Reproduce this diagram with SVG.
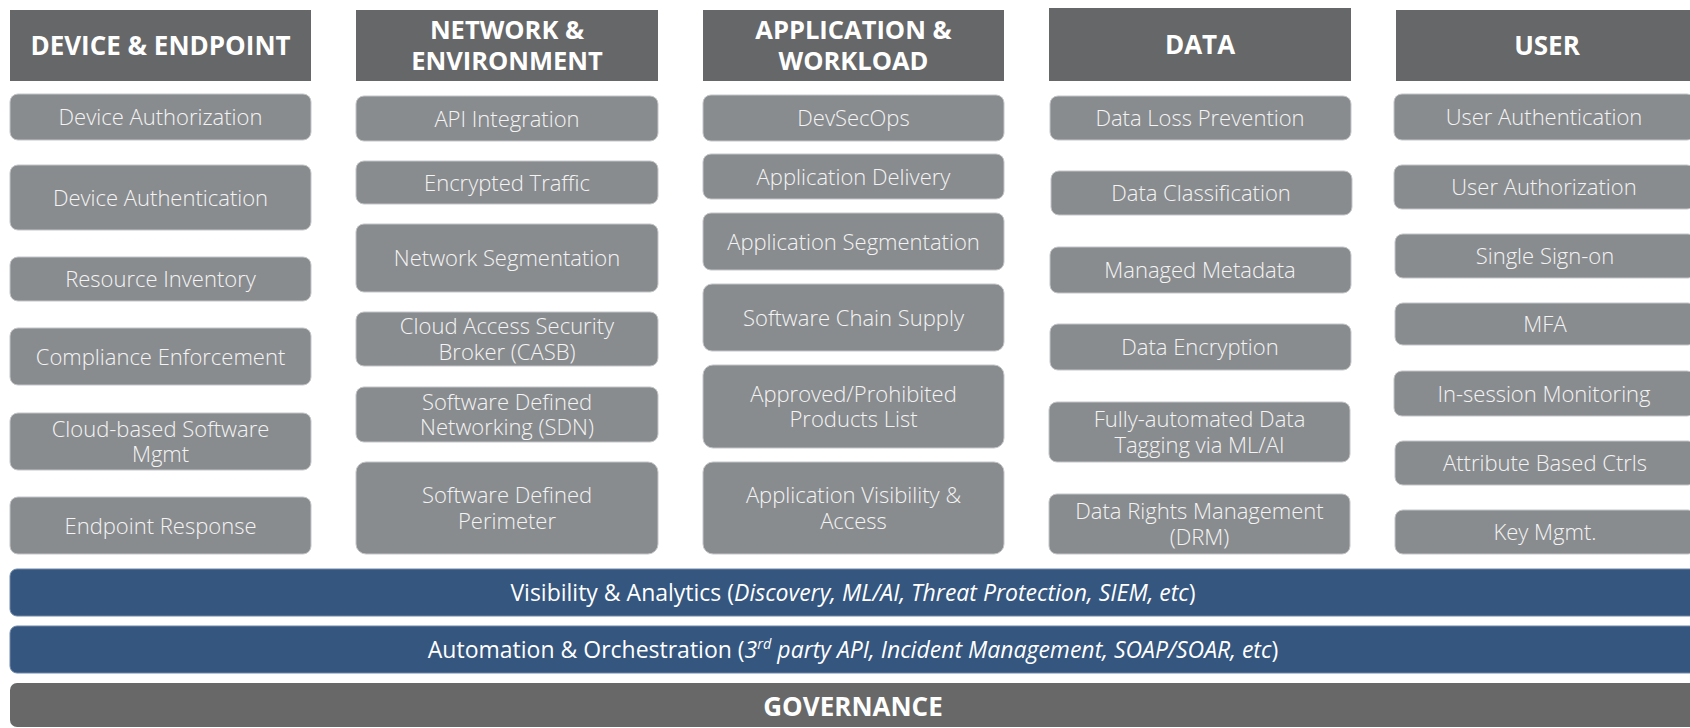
<svg xmlns="http://www.w3.org/2000/svg" width="1690" height="728" viewBox="0 0 1690 728">
<style>
.hdr{fill:#666769}
.hdr-t{font-family:"Open Sans","Liberation Sans",sans-serif;font-weight:700;font-size:26px;fill:#ffffff;text-anchor:middle}
.hdr-t2{font-family:"Open Sans","Liberation Sans",sans-serif;font-weight:700;font-size:25.5px;fill:#ffffff;text-anchor:middle}
.box{fill:#898c8f;stroke:#c3c5c7;stroke-width:1}
.box-t{font-family:"Open Sans","Liberation Sans",sans-serif;font-weight:300;font-size:22px;fill:#f4f4f4;text-anchor:middle}
.bar{fill:#34567f;stroke:#7088a8;stroke-width:1}
.bar-t{font-family:"Open Sans","Liberation Sans",sans-serif;font-weight:400;font-size:23px;fill:#ffffff;text-anchor:middle}
.gov{fill:#686868}
.it{font-style:italic}
</style>
<rect width="1690" height="728" fill="#ffffff"/>

<!-- Column headers -->
<g id="hdr-device"><rect class="hdr" x="10" y="10" width="301" height="71"/><text class="hdr-t" x="160.5" y="54.5">DEVICE &amp; ENDPOINT</text></g>
<g id="hdr-network"><rect class="hdr" x="356" y="10" width="302" height="71"/><text class="hdr-t2" x="507" y="39.2">NETWORK &amp;<tspan x="507" dy="31">ENVIRONMENT</tspan></text></g>
<g id="hdr-application"><rect class="hdr" x="703" y="10" width="301" height="71"/><text class="hdr-t2" x="853.5" y="39.2">APPLICATION &amp;<tspan x="853.5" dy="31">WORKLOAD</tspan></text></g>
<g id="hdr-data"><rect class="hdr" x="1049" y="8" width="302" height="73"/><text class="hdr-t" x="1200" y="53.7">DATA</text></g>
<g id="hdr-user"><rect class="hdr" x="1396" y="10" width="302" height="71"/><text class="hdr-t" x="1547" y="54.5">USER</text></g>

<!-- Device & Endpoint -->
<g id="dev-authz"><rect class="box" x="10" y="94" width="301" height="46" rx="8"/><text class="box-t" x="160.5" y="125">Device Authorization</text></g>
<g id="dev-authn"><rect class="box" x="10" y="165" width="301" height="65" rx="8"/><text class="box-t" x="160.5" y="205.5">Device Authentication</text></g>
<g id="dev-inventory"><rect class="box" x="10" y="257" width="301" height="44" rx="8"/><text class="box-t" x="160.5" y="287">Resource Inventory</text></g>
<g id="dev-compliance"><rect class="box" x="10" y="328" width="301" height="57" rx="8"/><text class="box-t" x="160.5" y="364.5">Compliance Enforcement</text></g>
<g id="dev-cloudsw"><rect class="box" x="10" y="413" width="301" height="57" rx="8"/><text class="box-t" x="160.5" y="436.5">Cloud-based Software<tspan x="160.5" dy="25.5">Mgmt</tspan></text></g>
<g id="dev-endpoint"><rect class="box" x="10" y="497" width="301" height="57" rx="8"/><text class="box-t" x="160.5" y="533.5">Endpoint Response</text></g>

<!-- Network & Environment -->
<g id="net-api"><rect class="box" x="356" y="96" width="302" height="45" rx="8"/><text class="box-t" x="507" y="126.5">API Integration</text></g>
<g id="net-encrypted"><rect class="box" x="356" y="161" width="302" height="43" rx="8"/><text class="box-t" x="507" y="190.5">Encrypted Traffic</text></g>
<g id="net-segmentation"><rect class="box" x="356" y="224" width="302" height="68" rx="8"/><text class="box-t" x="507" y="266">Network Segmentation</text></g>
<g id="net-casb"><rect class="box" x="356" y="312" width="302" height="54" rx="8"/><text class="box-t" x="507" y="334">Cloud Access Security<tspan x="507" dy="25.5">Broker (CASB)</tspan></text></g>
<g id="net-sdn"><rect class="box" x="356" y="387" width="302" height="55" rx="8"/><text class="box-t" x="507" y="409.5">Software Defined<tspan x="507" dy="25.5">Networking (SDN)</tspan></text></g>
<g id="net-sdp"><rect class="box" x="356" y="462" width="302" height="92" rx="10"/><text class="box-t" x="507" y="503">Software Defined<tspan x="507" dy="25.5">Perimeter</tspan></text></g>

<!-- Application & Workload -->
<g id="app-devsecops"><rect class="box" x="703" y="95" width="301" height="46" rx="8"/><text class="box-t" x="853.5" y="126">DevSecOps</text></g>
<g id="app-delivery"><rect class="box" x="703" y="154" width="301" height="45" rx="8"/><text class="box-t" x="853.5" y="184.5">Application Delivery</text></g>
<g id="app-segmentation"><rect class="box" x="703" y="213" width="301" height="57" rx="8"/><text class="box-t" x="853.5" y="249.5">Application Segmentation</text></g>
<g id="app-supply"><rect class="box" x="703" y="284" width="301" height="67" rx="9"/><text class="box-t" x="853.5" y="325.5">Software Chain Supply</text></g>
<g id="app-approved"><rect class="box" x="703" y="365" width="301" height="83" rx="10"/><text class="box-t" x="853.5" y="401.5">Approved/Prohibited<tspan x="853.5" dy="25.5">Products List</tspan></text></g>
<g id="app-visibility"><rect class="box" x="703" y="462" width="301" height="92" rx="10"/><text class="box-t" x="853.5" y="503">Application Visibility &amp;<tspan x="853.5" dy="25.5">Access</tspan></text></g>

<!-- Data -->
<g id="data-dlp"><rect class="box" x="1050" y="96" width="301" height="44" rx="8"/><text class="box-t" x="1200" y="126">Data Loss Prevention</text></g>
<g id="data-class"><rect class="box" x="1051" y="171" width="301" height="44" rx="8"/><text class="box-t" x="1201" y="201">Data Classification</text></g>
<g id="data-meta"><rect class="box" x="1050" y="247" width="301" height="46" rx="8"/><text class="box-t" x="1200" y="278">Managed Metadata</text></g>
<g id="data-encryption"><rect class="box" x="1050" y="324" width="301" height="46" rx="8"/><text class="box-t" x="1200" y="355">Data Encryption</text></g>
<g id="data-tagging"><rect class="box" x="1049" y="402" width="301" height="60" rx="8"/><text class="box-t" x="1199.5" y="427">Fully-automated Data<tspan x="1199.5" dy="25.5">Tagging via ML/AI</tspan></text></g>
<g id="data-drm"><rect class="box" x="1049" y="494" width="301" height="60" rx="8"/><text class="box-t" x="1199.5" y="519">Data Rights Management<tspan x="1199.5" dy="25.5">(DRM)</tspan></text></g>

<!-- User -->
<g id="user-authn"><rect class="box" x="1394" y="94" width="301" height="46" rx="8"/><text class="box-t" x="1544" y="125">User Authentication</text></g>
<g id="user-authz"><rect class="box" x="1394" y="165" width="301" height="44" rx="8"/><text class="box-t" x="1544" y="195">User Authorization</text></g>
<g id="user-sso"><rect class="box" x="1395" y="234" width="301" height="44" rx="8"/><text class="box-t" x="1545" y="264">Single Sign-on</text></g>
<g id="user-mfa"><rect class="box" x="1395" y="303" width="301" height="42" rx="8"/><text class="box-t" x="1545" y="332">MFA</text></g>
<g id="user-monitoring"><rect class="box" x="1394" y="371" width="301" height="45" rx="8"/><text class="box-t" x="1544" y="401.5">In-session Monitoring</text></g>
<g id="user-abac"><rect class="box" x="1395" y="441" width="301" height="44" rx="8"/><text class="box-t" x="1545" y="471">Attribute Based Ctrls</text></g>
<g id="user-keys"><rect class="box" x="1395" y="510" width="301" height="44" rx="8"/><text class="box-t" x="1545" y="540">Key Mgmt.</text></g>

<!-- Cross-cutting bars -->
<g id="bar-visibility"><rect class="bar" x="10" y="569" width="1690" height="47" rx="7"/><text class="bar-t" x="853" y="600.5">Visibility &amp; Analytics (<tspan class="it">Discovery, ML/AI, Threat Protection, SIEM, etc</tspan>)</text></g>
<g id="bar-automation"><rect class="bar" x="10" y="626" width="1690" height="47" rx="7"/><text class="bar-t" x="853" y="657.5">Automation &amp; Orchestration (<tspan class="it">3<tspan font-size="14.5" dy="-8.5">rd</tspan><tspan dy="8.5"> party API, Incident Management, SOAP/SOAR, etc</tspan></tspan>)</text></g>
<g id="bar-governance"><rect class="gov" x="10" y="683" width="1690" height="44" rx="7"/><text class="hdr-t" x="853" y="716">GOVERNANCE</text></g>
<g id="connectors"></g>
</svg>
